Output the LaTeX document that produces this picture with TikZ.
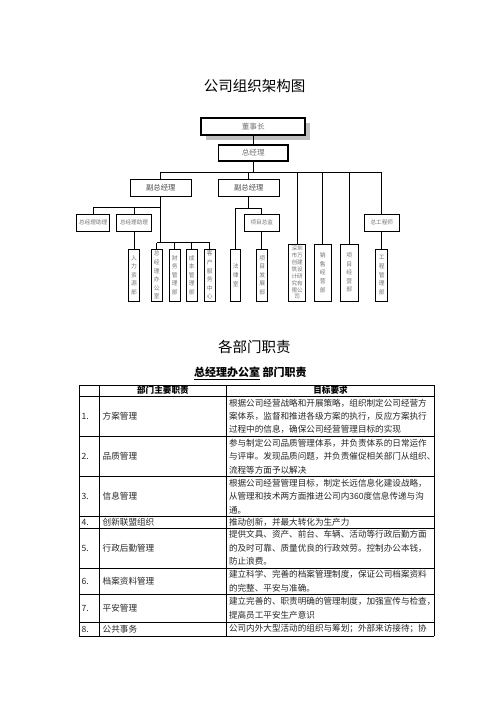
\documentclass[tikz,border=0pt]{standalone}
\usepackage{fontspec}
\setmainfont{Noto Sans CJK SC}
\usetikzlibrary{shadows}

\begin{document}
\begin{tikzpicture}[x=1pt,y=-1pt,
    box/.style={draw,line width=0.8pt,inner sep=0pt,fill=white,text=black!55},
    bigbox/.style={box,line width=1.8pt,font=\fontsize{7.6}{9}\selectfont},
    midbox/.style={box,minimum width=61pt,minimum height=17pt,text=black!70,font=\fontsize{7.4}{9}\selectfont},
    smallbox/.style={box,minimum width=34pt,minimum height=17.3pt,font=\fontsize{5.6}{7}\selectfont},
    vbox/.style={box,align=center,minimum height=51.7pt,font=\fontsize{5.8}{8.6}\selectfont},
    tallbox/.style={vbox,minimum height=56.7pt},
    conn/.style={line width=0.8pt},
    tline/.style={line width=0.7pt},
    cell/.style={anchor=west,inner sep=0pt,align=left,text=black!85,font=\fontsize{8.6}{13.4}\selectfont}]
  \useasboundingbox (0,0) rectangle (496,702);

  % organisation chart
  \node (title) at (254.5,86) {\fontsize{14.5}{17}\selectfont 公司组织架构图};
  \node[bigbox,minimum width=104.3pt,minimum height=17.3pt,
        drop shadow={shadow xshift=5pt,shadow yshift=-5pt,fill=black!25,opacity=1}] (dsz) at (253.2,126.3) {董事长};
  \node[bigbox,minimum width=69.6pt,minimum height=16.3pt] (zjl) at (253.2,152.8) {总经理};

  \node[midbox] (fz1) at (160.8,187.8) {副总经理};
  \node[midbox] (fz2) at (248.8,187.8) {副总经理};

  \node[smallbox,minimum width=33pt] (zl1) at (93.2,222.7) {总经理助理};
  \node[smallbox,minimum width=35.4pt] (zl2) at (134,222.7) {总经理助理};
  \node[smallbox,minimum width=35pt] (xmzj) at (261.8,222.7) {项目总监};
  \node[smallbox,minimum width=35pt] (zgc) at (381.8,222.7) {总工程师};

  \node[vbox,minimum width=11.4pt] (rl) at (134,275.15) {人\\力\\资\\源\\部};
  \node[vbox,minimum width=11pt] (bgs) at (156.8,275.15) {总\\经\\理\\办\\公\\室};
  \node[vbox,minimum width=10.7pt] (cw) at (174.7,275.15) {财\\务\\管\\理\\部};
  \node[vbox,minimum width=11pt] (cb) at (191.8,275.15) {成\\本\\管\\理\\部};
  \node[vbox,minimum width=10.7pt] (kf) at (209.7,275.15) {客\\户\\服\\务\\中\\心};
  \node[vbox,minimum width=10pt] (fl) at (235.7,275.15) {法\\律\\室};
  \node[vbox,minimum width=11pt] (xmfz) at (262.2,275.15) {项\\目\\发\\展\\部};
  \node[vbox,minimum width=12pt] (gcgl) at (381.7,275.15) {工\\程\\管\\理\\部};
  \node[tallbox,minimum width=17pt,font=\fontsize{5.6}{6.9}\selectfont] (sz) at (297.2,272.65)
       {深圳\\市万\\创建\\筑设\\计研\\究有\\限公\\司};
  \node[tallbox,minimum width=17pt] (xs) at (322.8,272.65) {销\\售\\经\\营\\部};
  \node[tallbox,minimum width=18pt] (xm) at (349.3,272.65) {项\\目\\经\\营\\部};

  \coordinate (b1) at (0,172.3);
  \coordinate (b2) at (0,207.7);
  \coordinate (b3) at (0,242.7);
  \coordinate (b4) at (0,208.3);

  \draw[conn] (dsz.south) -- (zjl.north);
  \draw[conn] (zjl.south) -- (zjl.south |- b1);
  \draw[conn] (fz1.north |- b1) -- (zgc.north |- b1);
  \foreach \n in {fz1,fz2,sz,xs,xm,zgc}
    \draw[conn] (\n.north) -- (\n.north |- b1);

  \draw[conn] (zl1.north) |- (fz1.south |- b2);
  \draw[conn] (zl2.north) -- (zl2.north |- b2);
  \draw[conn] (zl2.south) -- (rl.north);
  \draw[conn] (fz1.south) -- (fz1.south |- b3);
  \draw[conn] (bgs.north |- b3) -- (kf.north |- b3);
  \foreach \n in {bgs,cw,cb,kf}
    \draw[conn] (\n.north) -- (\n.north |- b3);

  \draw[conn] (fz2.south) -- (fz2.south |- b4);
  \draw[conn] (fl.north) -- (fl.north |- b4) -| (xmzj.north);
  \draw[conn] (xmzj.south) -- (xmzj.south |- xmfz.north);
  \draw[conn] (zgc.south) -- (zgc.south |- gcgl.north);

  % duties table
  \node (title2) at (254.4,346.7) {\fontsize{14.5}{17}\selectfont 各部门职责};
  \node (title3) at (250.3,373.3) {\fontsize{11}{13}\selectfont\bfseries \underline{总经理办公室}\ 部门职责};

  \foreach \y in {385,396,436.5,476.5,516.5,528,568,594.5,622,636}
    \draw[tline] (79,\y) -- (434.3,\y);
  \foreach \x in {79,99,226.7,434.3}
    \draw[tline] (\x,385) -- (\x,636);

  \node[cell,anchor=center,font=\fontsize{8.6}{13.4}\selectfont\bfseries,text=black] (h1) at (162.9,390.5) {部门主要职责};
  \node[cell,anchor=center,font=\fontsize{8.6}{13.4}\selectfont\bfseries,text=black] (h2) at (330.5,390.5) {目标要求};

  \node[cell] (r1a) at (81.5,416.25) {1.};
  \node[cell] (r1b) at (102.5,416.25) {方案管理};
  \node[cell] (r1c) at (228.8,416.25) {根据公司经营战略和开展策略，组织制定公司经营方\\案体系，监督和推进各级方案的执行，反应方案执行\\过程中的信息，确保公司经营管理目标的实现};

  \node[cell] (r2a) at (81.5,456.5) {2.};
  \node[cell] (r2b) at (102.5,456.5) {品质管理};
  \node[cell] (r2c) at (228.8,456.5) {参与制定公司品质管理体系，并负责体系的日常运作\\与评审。发现品质问题，并负责催促相关部门从组织、\\流程等方面予以解决};

  \node[cell] (r3a) at (81.5,496.5) {3.};
  \node[cell] (r3b) at (102.5,496.5) {信息管理};
  \node[cell] (r3c) at (228.8,496.5) {根据公司经营管理目标，制定长远信息化建设战略，\\从管理和技术两方面推进公司内360度信息传递与沟\\通。};

  \node[cell] (r4a) at (81.5,522.25) {4.};
  \node[cell] (r4b) at (102.5,522.25) {创新联盟组织};
  \node[cell] (r4c) at (228.8,522.25) {推动创新，并最大转化为生产力};

  \node[cell] (r5a) at (81.5,548) {5.};
  \node[cell] (r5b) at (102.5,548) {行政后勤管理};
  \node[cell] (r5c) at (228.8,548) {提供文具、资产、前台、车辆、活动等行政后勤方面\\的及时可靠、质量优良的行政效劳。控制办公本钱，\\防止浪费。};

  \node[cell] (r6a) at (81.5,581.25) {6.};
  \node[cell] (r6b) at (102.5,581.25) {档案资料管理};
  \node[cell] (r6c) at (228.8,581.25) {建立科学、完善的档案管理制度，保证公司档案资料\\的完整、平安与准确。};

  \node[cell] (r7a) at (81.5,608.25) {7.};
  \node[cell] (r7b) at (102.5,608.25) {平安管理};
  \node[cell] (r7c) at (228.8,608.25) {建立完善的、职责明确的管理制度，加强宣传与检查，\\提高员工平安生产意识};

  \node[cell] (r8a) at (81.5,629) {8.};
  \node[cell] (r8b) at (102.5,629) {公共事务};
  \node[cell] (r8c) at (228.8,629) {公司内外大型活动的组织与筹划；外部来访接待；协};
\end{tikzpicture}
\end{document}
